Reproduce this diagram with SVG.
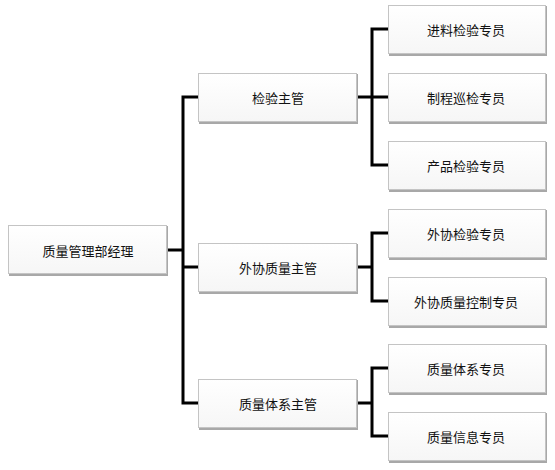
<svg xmlns="http://www.w3.org/2000/svg" width="555" height="470" viewBox="0 0 555 470">
<defs>
<linearGradient id="g" x1="0" y1="0" x2="0" y2="1">
<stop offset="0" stop-color="#ffffff"/>
<stop offset="1" stop-color="#f6f6f6"/>
</linearGradient>
<style>
.sh{fill:#a8a8a8;}
.bx{fill:url(#g);stroke:#c4c4c4;stroke-width:1;}
.t{font-family:"Noto Sans CJK SC","Liberation Sans",sans-serif;font-size:13px;fill:#111;text-anchor:middle;dominant-baseline:central;}
.c{stroke:#000;stroke-width:3;fill:none;stroke-linecap:square;}
</style>
</defs>
<rect width="555" height="470" fill="#fff"/>
<g id="connectors">
<path class="c" d="M167,250 H183 M183,97 V403 M183,97 H198 M183,267 H198 M183,403 H198"/>
<path class="c" d="M357,97 H372 M372,29 V165 M372,29 H388 M372,97 H388 M372,165 H388"/>
<path class="c" d="M357,267 H372 M372,233 V301 M372,233 H388 M372,301 H388"/>
<path class="c" d="M357,403 H372 M372,368 V436 M372,368 H388 M372,436 H388"/>
</g>
<g id="root"><rect class="sh" x="9" y="226" width="159" height="50"/><rect class="bx" x="8.5" y="225.5" width="158" height="48"/><text class="t" x="88" y="250">质量管理部经理</text></g>
<g id="m1"><rect class="sh" x="199" y="74" width="159" height="50"/><rect class="bx" x="198.5" y="73.5" width="158" height="48"/><text class="t" x="278" y="97">检验主管</text></g>
<g id="m2"><rect class="sh" x="199" y="244" width="159" height="50"/><rect class="bx" x="198.5" y="243.5" width="158" height="48"/><text class="t" x="278" y="267">外协质量主管</text></g>
<g id="m3"><rect class="sh" x="199" y="380" width="159" height="50"/><rect class="bx" x="198.5" y="379.5" width="158" height="48"/><text class="t" x="278" y="403">质量体系主管</text></g>
<g id="r1"><rect class="sh" x="389" y="6" width="158" height="50"/><rect class="bx" x="388.5" y="5.5" width="157" height="48"/><text class="t" x="466" y="29">进料检验专员</text></g>
<g id="r2"><rect class="sh" x="389" y="74" width="158" height="50"/><rect class="bx" x="388.5" y="73.5" width="157" height="48"/><text class="t" x="466" y="97">制程巡检专员</text></g>
<g id="r3"><rect class="sh" x="389" y="142" width="158" height="50"/><rect class="bx" x="388.5" y="141.5" width="157" height="48"/><text class="t" x="466" y="165">产品检验专员</text></g>
<g id="r4"><rect class="sh" x="389" y="210" width="158" height="50"/><rect class="bx" x="388.5" y="209.5" width="157" height="48"/><text class="t" x="466" y="233">外协检验专员</text></g>
<g id="r5"><rect class="sh" x="389" y="278" width="158" height="50"/><rect class="bx" x="388.5" y="277.5" width="157" height="48"/><text class="t" x="466" y="301">外协质量控制专员</text></g>
<g id="r6"><rect class="sh" x="389" y="345" width="158" height="50"/><rect class="bx" x="388.5" y="344.5" width="157" height="48"/><text class="t" x="466" y="368">质量体系专员</text></g>
<g id="r7"><rect class="sh" x="389" y="413" width="158" height="50"/><rect class="bx" x="388.5" y="412.5" width="157" height="48"/><text class="t" x="466" y="436">质量信息专员</text></g>
</svg>
